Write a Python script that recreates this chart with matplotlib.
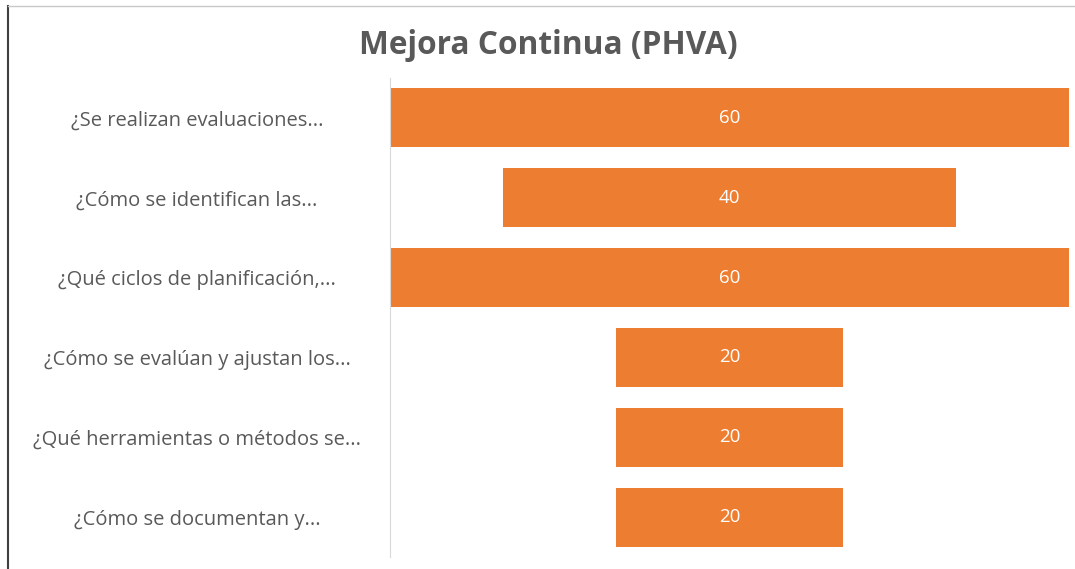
import numpy as np
import matplotlib.pyplot as plt
from matplotlib.lines import Line2D

plt.rcParams['font.family'] = ['Open Sans', 'DejaVu Sans']

preguntas = ["¿Se realizan evaluaciones...",
             "¿Cómo se identifican las...",
             "¿Qué ciclos de planificación,...",
             "¿Cómo se evalúan y ajustan los...",
             "¿Qué herramientas o métodos se...",
             "¿Cómo se documentan y..."]
valores = [60, 40, 60, 20, 20, 20]

naranja = "#ED7D31"
gris = "#595959"

fig = plt.figure(figsize=(10.75, 5.69), dpi=100)
ax = fig.add_axes([390/1075, 1-557/569, (1069-390)/1075, (557-78)/569])

y = np.arange(len(valores))
v = np.array(valores)
# funnel: barras centradas en 0
ax.barh(y, v, left=-v/2, height=0.74, color=naranja)
for yi, val in zip(y, valores):
    ax.text(0, yi, str(val), ha="center", va="center", color="white", fontsize=13.5)

ax.set_xlim(-30, 30)
ax.set_ylim(5.5, -0.5)
ax.set_xticks([])
ax.set_yticks(y)
ax.set_yticklabels(preguntas, fontsize=14.5, color=gris)
# etiquetas centradas en x~197px
ax.tick_params(axis="y", length=0, pad=(390-197)*0.72)
for lab in ax.get_yticklabels():
    lab.set_ha("center")
for s in ["top", "right", "bottom"]:
    ax.spines[s].set_visible(False)
ax.spines["left"].set_color("#D9D9D9")

fig.text(548/1075, 1-45/569, "Mejora Continua (PHVA)", ha="center", va="center",
         fontsize=22.8, fontweight="bold", color=gris)

# marco
fig.add_artist(Line2D([8/1075, 8/1075], [0, 1-6/569], color="#404040", lw=1.5))
fig.add_artist(Line2D([8/1075, 1], [1-6/569, 1-6/569], color="#C8C8C8", lw=1))

fig.savefig("out.png", dpi=100)
